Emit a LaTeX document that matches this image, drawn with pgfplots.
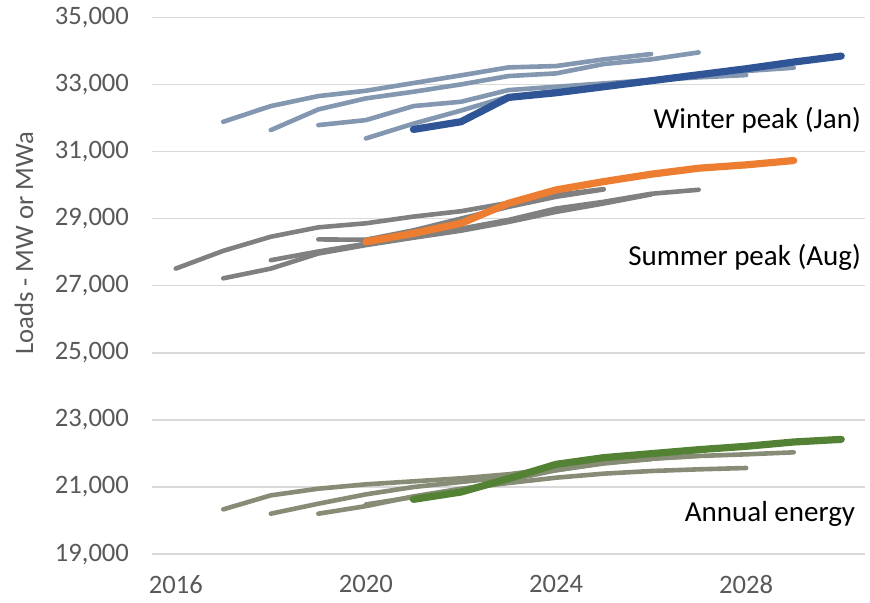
\documentclass[border=0pt]{standalone}
\usepackage{pgfplots}
\pgfplotsset{compat=1.18}
\usepackage{fontspec}
\setmainfont{Carlito}
\definecolor{wlight}{HTML}{8497B0}
\definecolor{wdark}{HTML}{2F5597}
\definecolor{sgray}{HTML}{808080}
\definecolor{sorange}{HTML}{ED7D31}
\definecolor{egray}{HTML}{878C76}
\definecolor{egreen}{HTML}{548235}
\definecolor{gridc}{HTML}{D9D9D9}
\definecolor{ticktext}{HTML}{595959}
\begin{document}
\begin{tikzpicture}
\path[use as bounding box] (-76pt,-24pt) rectangle (359pt,277.05pt);
\begin{axis}[
  scale only axis,
  width=356.5pt, height=268.4pt,
  xmin=2015.5, xmax=2030.5,
  ymin=19000, ymax=35000,
  xtick={2016,2020,2024,2028},
  ytick={19000,21000,...,35000},
  scaled y ticks=false,
  xmajorgrids=false,
  ymajorgrids=true,
  major grid style={draw=gridc, line width=0.7pt},
  axis line style={draw=none},
  tick style={draw=none},
  /pgf/number format/assume math mode=true,
  /pgf/number format/1000 sep={,},
  xticklabel={\pgfmathprintnumber[1000 sep=]{\tick}},
  ticklabel style={font=\fontsize{13.3}{16}\selectfont, text=ticktext},
  yticklabel style={xshift=-8pt},
  xticklabel style={yshift=-7pt},
  ylabel={Loads - MW or MWa},
  ylabel style={at={(axis description cs:-0.1795,0.579)}, anchor=center, font=\fontsize{13.3}{16}\selectfont, text=ticktext},
  every axis plot/.append style={line cap=round, line join=round},
  clip=false,
]
% Winter vintages
\addplot[wlight, line width=2.3pt] coordinates {(2017,31887)(2018,32354)(2019,32652)(2020,32811)(2021,33040)(2022,33270)(2023,33507)(2024,33547)(2025,33746)(2026,33905)};
\addplot[wlight, line width=2.3pt] coordinates {(2018,31638)(2019,32255)(2020,32583)(2021,32781)(2022,33000)(2023,33249)(2024,33328)(2025,33606)(2026,33746)(2027,33954)};
\addplot[wlight, line width=2.3pt] coordinates {(2019,31787)(2020,31936)(2021,32354)(2022,32483)(2023,32831)(2024,32930)(2025,33030)(2026,33129)(2027,33209)(2028,33278)};
\addplot[wlight, line width=2.3pt] coordinates {(2020,31390)(2021,31830)(2022,32220)(2023,32640)(2024,32800)(2025,32970)(2026,33130)(2027,33290)(2028,33400)(2029,33497)};
% Summer vintages
\addplot[sgray, line width=2.3pt] coordinates {(2016,27510)(2017,28040)(2018,28460)(2019,28740)(2020,28860)(2021,29060)(2022,29220)(2023,29470)(2024,29700)(2025,29880)};
\addplot[sgray, line width=2.3pt] coordinates {(2017,27220)(2018,27510)(2019,27960)(2020,28210)(2021,28430)(2022,28640)(2023,28900)(2024,29200)(2025,29450)(2026,29720)};
\addplot[sgray, line width=2.3pt] coordinates {(2018,27760)(2019,28020)(2020,28250)(2021,28470)(2022,28700)(2023,28960)(2024,29300)(2025,29500)(2026,29740)(2027,29860)};
\addplot[sgray, line width=2.3pt] coordinates {(2019,28380)(2020,28370)(2021,28650)(2022,29000)(2023,29350)(2024,29650)(2025,29870)};
% Energy vintages
\addplot[egray, line width=2.3pt] coordinates {(2017,20334)(2018,20752)(2019,20950)(2020,21080)(2021,21169)(2022,21260)(2023,21380)(2024,21560)(2025,21720)(2026,21830)};
\addplot[egray, line width=2.3pt] coordinates {(2018,20205)(2019,20503)(2020,20781)(2021,21000)(2022,21149)(2023,21300)(2024,21500)(2025,21700)(2026,21840)(2027,21930)};
\addplot[egray, line width=2.3pt] coordinates {(2019,20205)(2020,20430)(2021,20720)(2022,20950)(2023,21119)(2024,21278)(2025,21398)(2026,21477)(2027,21527)(2028,21567)};
\addplot[egray, line width=2.3pt] coordinates {(2020,20480)(2021,20700)(2022,20920)(2023,21200)(2024,21500)(2025,21720)(2026,21845)(2027,21925)(2028,21974)(2029,22034)};
% Current forecasts
\addplot[wdark, line width=3.6pt] coordinates {(2021,31658)(2022,31887)(2023,32612)(2024,32751)(2025,32930)(2026,33109)(2027,33288)(2028,33467)(2029,33666)(2030,33845)};
\addplot[sorange, line width=3.6pt] coordinates {(2020,28310)(2021,28560)(2022,28860)(2023,29457)(2024,29855)(2025,30103)(2026,30323)(2027,30502)(2028,30602)(2029,30731)};
\addplot[egreen, line width=3.6pt] coordinates {(2021,20632)(2022,20851)(2023,21249)(2024,21676)(2025,21875)(2026,21994)(2027,22113)(2028,22213)(2029,22342)(2030,22420)};
% Labels
\node[anchor=east, font=\fontsize{14.5}{17}\selectfont, inner sep=0pt] at (axis cs:2030.42,31937) {Winter peak (Jan)};
\node[anchor=east, font=\fontsize{14.5}{17}\selectfont, inner sep=0pt] at (axis cs:2030.42,27857) {Summer peak (Aug)};
\node[anchor=east, font=\fontsize{14.5}{17}\selectfont, inner sep=0pt] at (axis cs:2030.3,20188) {Annual energy};
\end{axis}
\end{tikzpicture}
\end{document}
